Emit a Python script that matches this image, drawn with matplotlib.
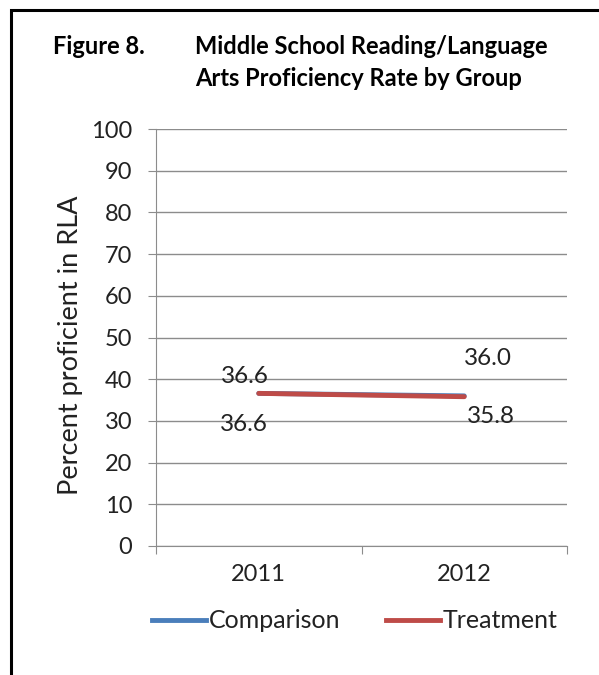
import matplotlib.pyplot as plt
from matplotlib.lines import Line2D
from matplotlib.patches import Rectangle

plt.rcParams['font.family'] = ['Lato', 'DejaVu Sans']

YEARS = ['2011', '2012']
COMPARISON = [36.6, 36.0]
TREATMENT = [36.6, 35.8]
Y_TICKS = list(range(0, 101, 10))

BLUE = '#4A7EBB'
RED = '#BE4B48'
GRID = '#8C8C8C'
TEXT = '#222222'

fig = plt.figure(figsize=(5.99, 6.75), dpi=100)
ax = fig.add_axes([156 / 599, 1 - 546 / 675, (567 - 156) / 599, (546 - 129) / 675])

# outer frame (only the left and top edges fall inside the picture)
fig.patches.append(Rectangle((11 / 599, -0.05), 1.2, 1 - 10 / 675 + 0.05,
                             transform=fig.transFigure, fill=False,
                             edgecolor='black', linewidth=2.2))

x = [0.5, 1.5]
ax.plot(x, COMPARISON, color=BLUE, linewidth=3.5, solid_capstyle='round')
ax.plot(x, TREATMENT, color=RED, linewidth=3.5, solid_capstyle='round')

# data labels
label_kw = dict(textcoords='offset points', ha='center', va='center', fontsize=17.5, color=TEXT)
ax.annotate(f'{COMPARISON[0]:.1f}', (x[0], COMPARISON[0]), xytext=(-10, 12), **label_kw)
ax.annotate(f'{TREATMENT[0]:.1f}', (x[0], TREATMENT[0]), xytext=(-11, -22.5), **label_kw)
ax.annotate(f'{COMPARISON[1]:.1f}', (x[1], COMPARISON[1]), xytext=(17, 27), **label_kw)
ax.annotate(f'{TREATMENT[1]:.1f}', (x[1], TREATMENT[1]), xytext=(19, -14), **label_kw)

ax.set_xlim(0, 2)
ax.set_ylim(0, 100)
ax.set_yticks(Y_TICKS)
ax.set_yticklabels([str(v) for v in Y_TICKS], fontsize=17, color=TEXT)
ax.set_xticks([0, 1, 2])
ax.set_xticklabels([])
ax.set_xticks(x, minor=True)
ax.set_xticklabels(YEARS, minor=True, fontsize=17, color=TEXT)
ax.tick_params(axis='x', which='minor', length=0, pad=13)
ax.tick_params(axis='x', which='major', length=6, color=GRID, direction='out')
ax.tick_params(axis='y', length=6, color=GRID, direction='out', pad=11)
ax.grid(axis='y', color=GRID, linewidth=1)
ax.set_axisbelow(True)
for side in ['top', 'right']:
    ax.spines[side].set_visible(False)
for side in ['left', 'bottom']:
    ax.spines[side].set_color(GRID)

fig.text(71 / 599, 1 - 345 / 675, 'Percent proficient in RLA', rotation=90,
         ha='center', va='center', fontsize=19.5, color=TEXT)

# title
fig.text(53 / 599, 1 - 47 / 675, 'Figure 8.', fontsize=17, fontweight='bold', va='center')
fig.text(195 / 599, 1 - 47 / 675, 'Middle School Reading/Language', fontsize=17,
         fontweight='bold', va='center')
fig.text(195 / 599, 1 - 79 / 675, 'Arts Proficiency Rate by Group', fontsize=17,
         fontweight='bold', va='center')

handles = [Line2D([], [], color=BLUE, linewidth=3.5), Line2D([], [], color=RED, linewidth=3.5)]
fig.legend(handles, ['Comparison', 'Treatment'], loc='center', ncol=2,
           bbox_to_anchor=(355 / 599, 1 - 621 / 675), frameon=False, fontsize=18,
           handlelength=2.16, handletextpad=0.12, columnspacing=1.8, labelcolor=TEXT)

plt.savefig('out.png', dpi=100)
